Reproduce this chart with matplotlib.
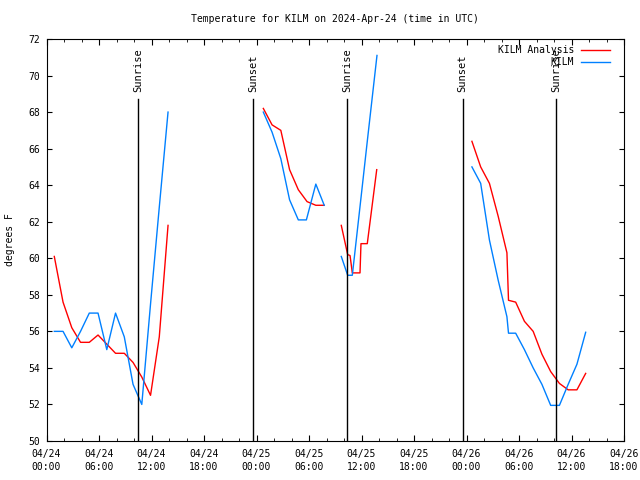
import matplotlib
matplotlib.use("Agg")
import matplotlib.pyplot as plt
import numpy as np

plt.rcParams['font.family'] = ['DejaVu Sans Mono', 'DejaVu Sans']
plt.rcParams['font.size'] = 7

title = "Temperature for KILM on 2024-Apr-24 (time in UTC)"
ylabel = "degrees F"
series_names = ["KILM Analysis", "KILM"]
series_colors = ["#ff0000", "#0080ff"]

# time in hours since 2024-04-24 00:00 UTC; NaN marks a data gap
analysis_t = [0.89, 1.89, 2.89, 3.89, 4.89, 5.89, 6.89, 7.89, 8.89, 9.89, 10.89, 11.89, 12.89, 13.89,
              np.nan,
              24.78, 25.78, 26.78, 27.78, 28.78, 29.78, 30.78, 31.74,
              np.nan,
              33.69, 34.42, 34.69, 34.95, 35.83, 35.94, 36.66, 37.74,
              np.nan,
              48.62, 49.62, 50.62, 51.62, 52.62, 52.80, 53.62, 54.62, 55.62, 56.62, 57.62, 58.62, 59.62, 60.62, 61.62]
analysis_v = [60.1, 57.6, 56.2, 55.4, 55.4, 55.8, 55.3, 54.8, 54.8, 54.3, 53.5, 52.5, 55.7, 61.8,
              np.nan,
              68.2, 67.3, 67.0, 64.85, 63.75, 63.1, 62.9, 62.9,
              np.nan,
              61.8, 60.2, 60.15, 59.2, 59.2, 60.8, 60.8, 64.85,
              np.nan,
              66.4, 65.0, 64.1, 62.3, 60.3, 57.7, 57.6, 56.55, 56.0, 54.75, 53.8, 53.15, 52.8, 52.8, 53.7]

obs_t = [0.89, 1.89, 2.89, 3.89, 4.89, 5.89, 6.89, 7.89, 8.89, 9.89, 10.89, 11.89, 12.89, 13.89,
         np.nan,
         24.78, 25.78, 26.78, 27.78, 28.78, 29.70, 30.78, 31.74,
         np.nan,
         33.69, 34.42, 34.95, 35.94, 36.66, 37.77,
         np.nan,
         48.62, 49.62, 50.62, 51.62, 52.62, 52.80, 53.62, 54.62, 55.62, 56.62, 57.62, 58.62, 59.62, 60.62, 61.62]
obs_v = [56.0, 56.0, 55.1, 56.0, 57.0, 57.0, 55.0, 57.0, 55.7, 53.1, 52.0, 57.5, 62.8, 68.0,
         np.nan,
         68.0, 66.9, 65.45, 63.2, 62.1, 62.1, 64.06, 62.9,
         np.nan,
         60.1, 59.07, 59.07, 63.3, 66.4, 71.1,
         np.nan,
         65.0, 64.1, 61.0, 58.8, 56.8, 55.9, 55.9, 55.0, 54.0, 53.1, 51.95, 51.95, 53.1, 54.2, 55.95]

sun_t = [10.49, 23.63, 34.38, 47.57, 58.26]
sun_labels = ["Sunrise", "Sunset", "Sunrise", "Sunset", "Sunrise"]

xtick_pos = [0, 6, 12, 18, 24, 30, 36, 42, 48, 54, 60, 66]
xtick_labels = ["04/24\n00:00", "04/24\n06:00", "04/24\n12:00", "04/24\n18:00",
                "04/25\n00:00", "04/25\n06:00", "04/25\n12:00", "04/25\n18:00",
                "04/26\n00:00", "04/26\n06:00", "04/26\n12:00", "04/26\n18:00"]
ytick_pos = [50, 52, 54, 56, 58, 60, 62, 64, 66, 68, 70, 72]

fig = plt.figure(figsize=(6.4, 4.8), dpi=100)
ax = fig.add_axes([46.5 / 640, 1 - 441 / 480, 577.5 / 640, 402 / 480])

ax.plot(analysis_t, analysis_v, color=series_colors[0], lw=1.0, label=series_names[0])
ax.plot(obs_t, obs_v, color=series_colors[1], lw=1.0, label=series_names[1])

for t, lab in zip(sun_t, sun_labels):
    ax.plot([t, t], [0, 0.851], color='black', lw=1.0, transform=ax.get_xaxis_transform())
    ax.text(t, 0.868, lab, rotation=90, ha='center', va='bottom', fontsize=7.5,
            transform=ax.get_xaxis_transform())

ax.set_xlim(0, 66)
ax.set_ylim(50, 72)
ax.set_xticks(xtick_pos)
ax.set_xticklabels(xtick_labels, linespacing=1.45)
ax.set_xticks(np.arange(0, 67, 2), minor=True)
ax.set_yticks(ytick_pos)
ax.tick_params(axis='both', which='both', direction='in', top=True, right=True)
ax.tick_params(axis='x', which='major', length=4, pad=5.5)
ax.tick_params(axis='x', which='minor', length=2.5)
ax.tick_params(axis='y', which='major', length=3.5, pad=4.5)
for s in ax.spines.values():
    s.set_linewidth(0.8)

ax.set_title(title, fontsize=7, pad=12.5)
ax.set_ylabel(ylabel, fontsize=7)
ax.yaxis.set_label_coords(-0.0545, 0.5)

ax.legend(loc='upper right', bbox_to_anchor=(0.976, 0.985), frameon=False,
          markerfirst=False, handlelength=3.0, handletextpad=0.7,
          borderpad=0, borderaxespad=0, labelspacing=0.25, fontsize=7)

fig.savefig("out.png", dpi=100)
